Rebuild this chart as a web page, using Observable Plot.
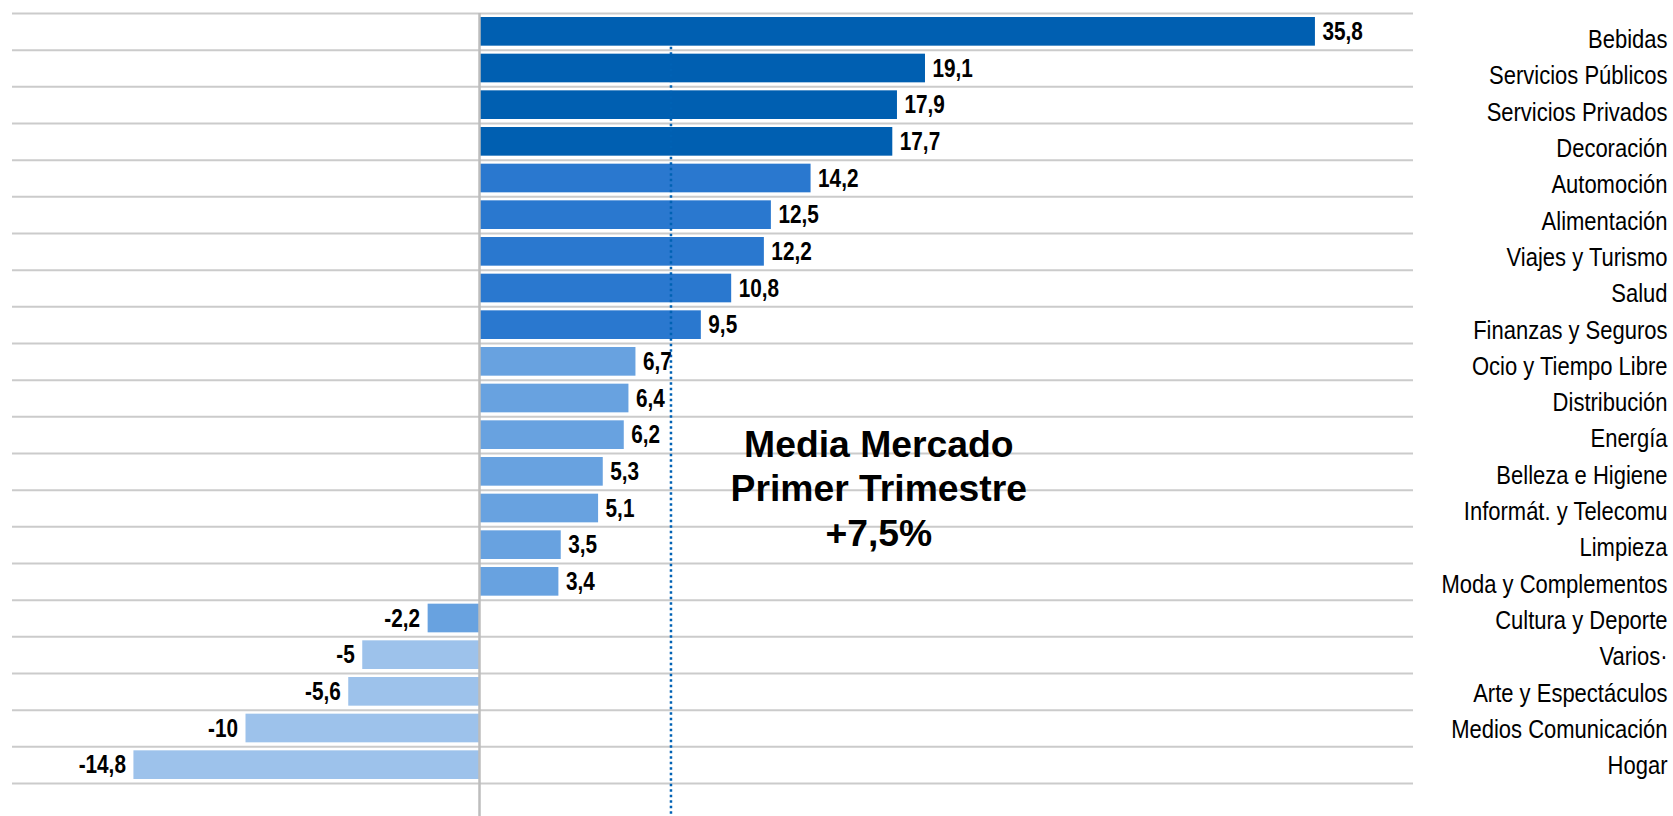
<!DOCTYPE html>
<html>
<head>
<meta charset="utf-8">
<script src="https://cdn.jsdelivr.net/npm/d3@7"></script>
<script src="https://cdn.jsdelivr.net/npm/@observablehq/plot@0.6"></script>
<style>
  html, body { margin: 0; padding: 0; background: #ffffff; }
  #chart { width: 1673px; height: 816px; }
</style>
</head>
<body>
<div id="chart"></div>
<script>
// ---- Data ----
const categories = [
  "Bebidas", "Servicios Públicos", "Servicios Privados", "Decoración", "Automoción",
  "Alimentación", "Viajes y Turismo", "Salud", "Finanzas y Seguros", "Ocio y Tiempo Libre",
  "Distribución", "Energía", "Belleza e Higiene", "Informát. y Telecomu", "Limpieza",
  "Moda y Complementos", "Cultura y Deporte", "Varios·", "Arte y Espectáculos",
  "Medios Comunicación", "Hogar"
];
const values = [
  35.8, 19.1, 17.9, 17.7, 14.2,
  12.5, 12.2, 10.8, 9.5, 6.7,
  6.4, 6.2, 5.3, 5.1, 3.5,
  3.4, -2.2, -5, -5.6,
  -10, -14.8
];
const tiers = [
  1, 1, 1, 1, 2,
  2, 2, 2, 2, 3,
  3, 3, 3, 3, 3,
  3, 3, 4, 4,
  4, 4
];
const tierColors = ["#005FB1", "#2A78CF", "#68A2E0", "#9DC2EB"];
const annotationLines = ["Media Mercado", "Primer Trimestre", "+7,5%"];
const averageLineX = 8.2;       // position of the dotted reference line (as drawn)
const annotationX = 17.1;       // horizontal centre of the annotation text
const annotationRow = "Belleza e Higiene";
const xDomain = [-20, 40];

// ---- Table built from the arrays ----
const data = categories.map((c, i) => ({
  category: c,
  value: values[i],
  color: tierColors[tiers[i] - 1],
  label: String(values[i]).replace(".", ",")
}));

// ---- Layout ----
const W = 1673, H = 816;
const mt = 13, mb = 33, ml = 12, mr = 260;
const step = (H - mt - mb) / categories.length;
const regular = "'Liberation Sans', Arial, sans-serif";
const labelSize = 26.5;
const labelStep = 36.3; // spacing of the category labels (slightly tighter than the rows)
const middleCategory = categories[Math.floor(categories.length / 2)];
const annSize = 37.3;

const chart = Plot.plot({
  width: W,
  height: H,
  marginTop: mt,
  marginBottom: mb,
  marginLeft: ml,
  marginRight: mr,
  style: { background: "#ffffff", fontFamily: regular, color: "#000000" },
  x: { domain: xDomain, axis: null },
  y: { domain: categories, padding: 0, round: false, axis: null },
  marks: [
    // horizontal row separators
    Plot.ruleY(categories, { y: d => d, dy: -step / 2, stroke: "#CBCBCB", strokeWidth: 2 }),
    Plot.ruleY(categories.slice(-1), { y: d => d, dy: step / 2, stroke: "#CBCBCB", strokeWidth: 2 }),
    // bars
    Plot.barX(data, { x: "value", y: "category", fill: "color", insetTop: 4, insetBottom: 4 }),
    // zero axis
    Plot.ruleX([0], { stroke: "#BDBDBD", strokeWidth: 2.5, insetBottom: -mb }),
    // average reference (dotted)
    Plot.ruleX([averageLineX], {
      stroke: "#0062B4", strokeWidth: 2.5, strokeDasharray: "2.5,3",
      insetTop: step - 3, insetBottom: -mb
    }),
    // value labels
    Plot.text(data.filter(d => d.value >= 0), {
      x: "value", y: "category", text: "label", textAnchor: "start", dx: 7,
      fontSize: 25, fontWeight: "bold", fill: "#000000", className: "narrow"
    }),
    Plot.text(data.filter(d => d.value < 0), {
      x: "value", y: "category", text: "label", textAnchor: "end", dx: -8,
      fontSize: 25, fontWeight: "bold", fill: "#000000", className: "narrow"
    }),
    // category labels on the right (one block, spaced like the original axis)
    Plot.text([categories.join("\n")], {
      y: () => middleCategory, text: d => d, frameAnchor: "right", textAnchor: "end",
      lineAnchor: "middle", lineHeight: labelStep / labelSize,
      dx: mr - 6, dy: 1, fontSize: labelSize, fill: "#000000", className: "narrow"
    }),
    // annotation
    Plot.text([annotationLines.join("\n")], {
      x: () => annotationX, y: () => annotationRow, dy: 15.4, text: d => d,
      textAnchor: "middle", lineAnchor: "middle", lineHeight: 44.2 / annSize,
      fontSize: annSize, fontWeight: "bold", fill: "#000000"
    })
  ]
});

// Emulate the narrow (Arial Narrow-like) lettering of the original labels
d3.select(chart).selectAll(".narrow text").each(function () {
  const t = this.getAttribute("transform") || "";
  this.setAttribute("transform", (t + " scale(0.83,1)").trim());
});

document.getElementById("chart").appendChild(chart);
</script>
</body>
</html>
